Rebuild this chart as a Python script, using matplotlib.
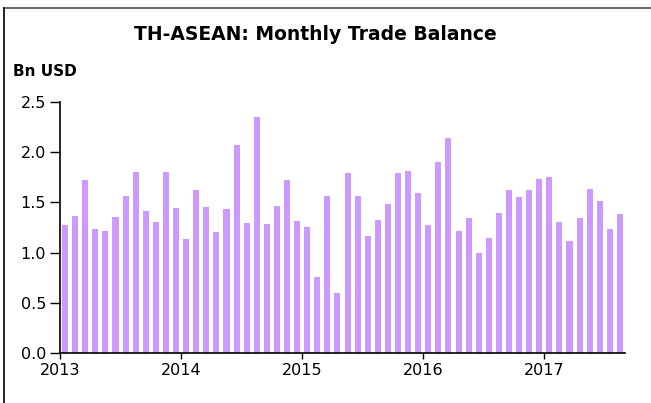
import numpy as np
import matplotlib
matplotlib.use("Agg")
import matplotlib.pyplot as plt
from matplotlib.lines import Line2D

plt.rcParams['font.family'] = ['DejaVu Sans']

# Aylik ticaret dengesi (Ocak 2013 - Agustos 2017), milyar USD
balance = [1.27, 1.36, 1.72, 1.24, 1.22, 1.35, 1.56, 1.80, 1.41, 1.30, 1.80, 1.44,
           1.14, 1.62, 1.45, 1.21, 1.43, 2.07, 1.29, 2.35, 1.28, 1.46, 1.72, 1.31,
           1.25, 0.76, 1.56, 0.60, 1.79, 1.56, 1.17, 1.32, 1.48, 1.79, 1.81, 1.59,
           1.27, 1.90, 2.14, 1.22, 1.34, 1.00, 1.15, 1.39, 1.62, 1.55, 1.62, 1.73,
           1.75, 1.30, 1.12, 1.34, 1.63, 1.51, 1.24, 1.38]
years = ['2013', '2014', '2015', '2016', '2017']
yticks = [0.0, 0.5, 1.0, 1.5, 2.0, 2.5]

W, H = 651, 403
fig = plt.figure(figsize=(W / 100, H / 100), dpi=100)
ax = fig.add_axes([60 / W, 1 - 353 / H, 565 / W, (353 - 102) / H])

x = np.arange(len(balance))
ax.bar(x, balance, width=0.6, color='#cc99ff', edgecolor='none')

ax.set_xlim(-0.5, len(balance) - 0.5)
ax.set_ylim(0, 2.5)
ax.set_yticks(yticks)
ax.set_yticklabels([f'{v:.1f}' for v in yticks], fontsize=11.5)
ax.set_xticks(np.arange(len(years)) * 12 - 0.5)
ax.set_xticklabels(years, fontsize=11.5)
ax.tick_params(axis='y', direction='out', length=7, width=1, pad=3)
ax.tick_params(axis='x', direction='out', length=4, width=1, pad=3)

for s in ['top', 'right']:
    ax.spines[s].set_visible(False)
for s in ['left', 'bottom']:
    ax.spines[s].set_linewidth(1.2)
    ax.spines[s].set_color('black')

fig.text(315 / W, 1 - 35 / H, 'TH-ASEAN: Monthly Trade Balance',
         ha='center', va='center', fontsize=13.5, fontweight='bold')
fig.text(13 / W, 1 - 72 / H, 'Bn USD', ha='left', va='center',
         fontsize=11, fontweight='bold')

# cerceve
fig.add_artist(Line2D([4 / W, 1], [1 - 8 / H, 1 - 8 / H], color='#707070', lw=1.5,
                      transform=fig.transFigure))
fig.add_artist(Line2D([4 / W, 4 / W], [0, 1 - 8 / H], color='black', lw=1.2,
                      transform=fig.transFigure))

fig.savefig('out.png', dpi=100)
